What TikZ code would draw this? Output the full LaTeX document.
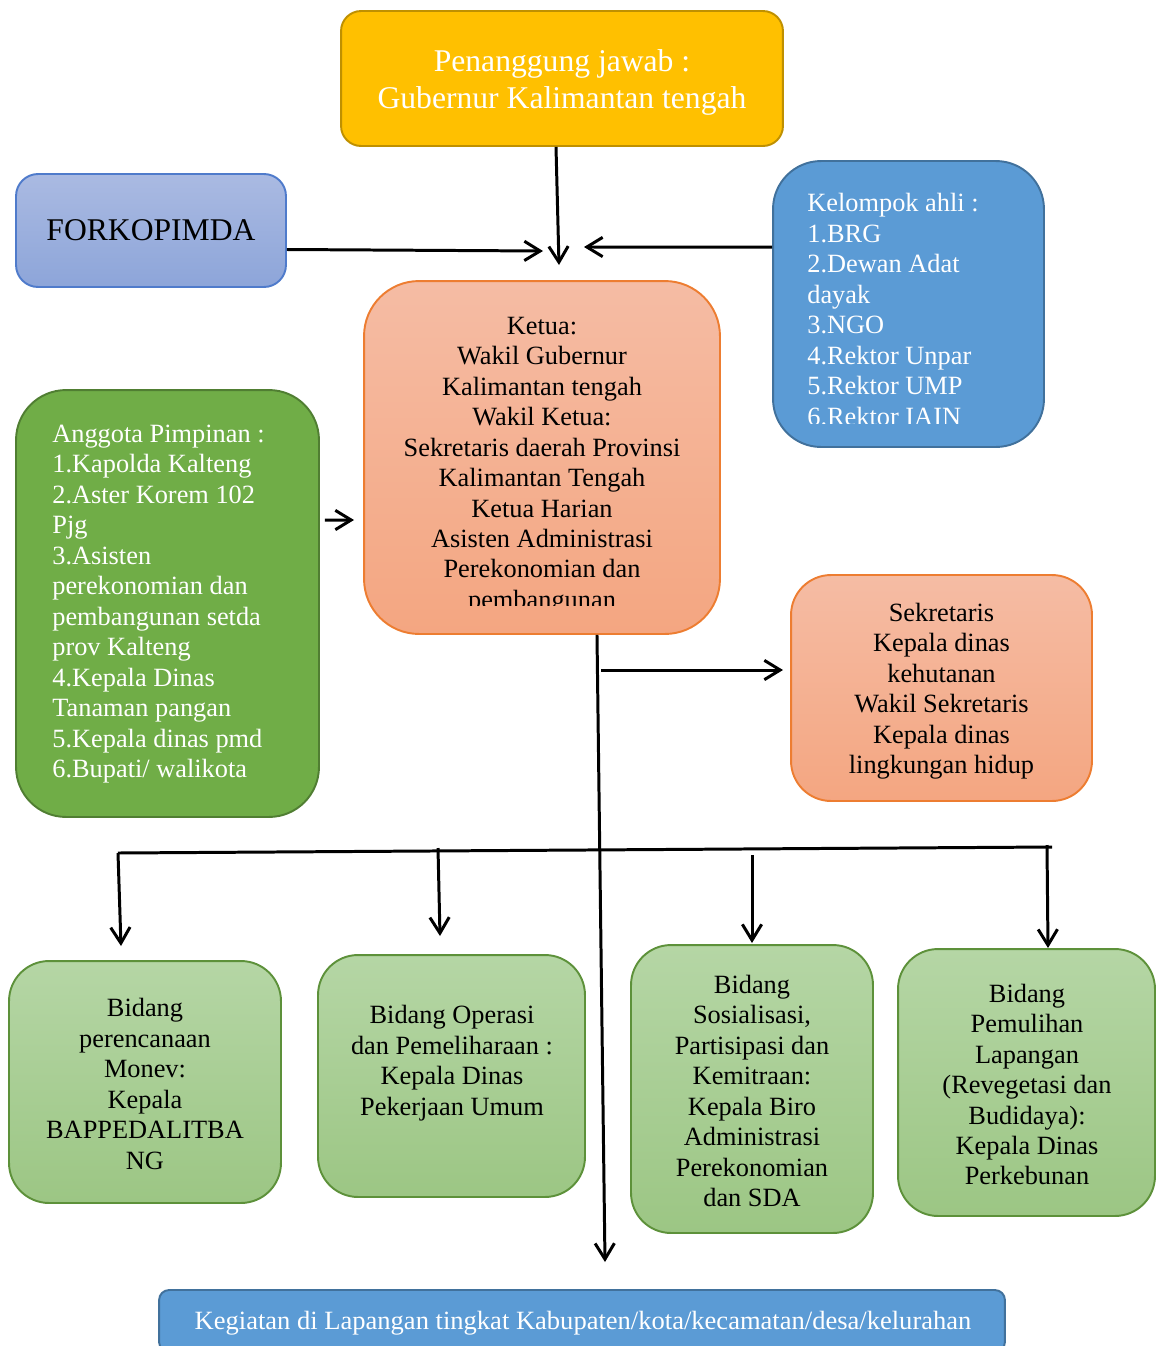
\documentclass[tikz,border=0pt]{standalone}
\usepackage{fontspec}
\setmainfont{Liberation Serif}
\usepackage{graphicx}
\usetikzlibrary{arrows.meta}

\definecolor{goldfill}{HTML}{FFC000}
\definecolor{goldline}{HTML}{BF9000}
\definecolor{lavtop}{HTML}{AABAE2}
\definecolor{lavbot}{HTML}{8DA5D9}
\definecolor{lavline}{HTML}{4F7BCB}
\definecolor{bluefill}{HTML}{5B9BD5}
\definecolor{blueline}{HTML}{41719C}
\definecolor{peachtop}{HTML}{F5BCA4}
\definecolor{peachbot}{HTML}{F4A681}
\definecolor{orangeline}{HTML}{ED7D31}
\definecolor{grassfill}{HTML}{70AD47}
\definecolor{grassline}{HTML}{507E32}
\definecolor{mintop}{HTML}{B5D6A5}
\definecolor{minbot}{HTML}{9CC684}

\tikzset{
  box/.style={draw, rounded corners=#1, line width=1.1pt, inner sep=0pt, align=center},
  txt/.style={font=\fontsize{15}{17.35}\selectfont, inner sep=0pt},
  bigtxt/.style={font=\fontsize{18}{21}\selectfont, inner sep=0pt},
  peach/.style={top color=peachtop, bottom color=peachbot, draw=orangeline},
  mint/.style={top color=mintop, bottom color=minbot, draw=grassline!60!grassfill},
  arr/.style={line width=1.7pt, -{Straight Barb[length=9pt,width=11pt]}},
  trunk/.style={line width=1.7pt}
}

\begin{document}
\begin{tikzpicture}[x=0.02cm, y=-0.02cm]
\useasboundingbox (0,0) rectangle (1156,1346);

% top row
\node[box=0.4cm, fill=goldfill, draw=goldline,
      minimum width=8.84cm, minimum height=2.7cm] (top) at (562,78.5) {};
\node[bigtxt, text=white, align=center] (toptxt) at (562,82)
  {Penanggung jawab :\\Gubernur Kalimantan tengah};
\node[box=0.44cm, bigtxt, top color=lavtop, bottom color=lavbot, draw=lavline,
      minimum width=5.4cm, minimum height=2.26cm] (forko) at (151,230.5) {FORKOPIMDA};
\node[box=0.96cm, fill=bluefill, draw=blueline,
      minimum width=5.42cm, minimum height=5.72cm] (ahli) at (908.5,304) {};
\begin{scope}
  \clip (780,170) rectangle (1040,423);
  \node[txt, text=white, align=left, anchor=north west] (ahlitxt) at (807,193)
    {Kelompok ahli :\\1.BRG\\2.Dewan Adat\\dayak\\3.NGO\\4.Rektor Unpar\\5.Rektor UMP\\6.Rektor IAIN};
\end{scope}

% middle row
\node[box=1.1cm, peach, minimum width=7.12cm, minimum height=7.06cm] (ketua) at (542,457.5) {};
\begin{scope}
  \clip (370,290) rectangle (714,605);
  \node[txt, align=center, anchor=north] (ketuatxt) at (542,316.5)
    {Ketua:\\Wakil Gubernur\\Kalimantan tengah\\Wakil Ketua:\\Sekretaris daerah Provinsi\\Kalimantan Tengah\\Ketua Harian\\Asisten Administrasi\\Perekonomian dan\\pembangunan};
\end{scope}
\node[box=1cm, fill=grassfill, draw=grassline, minimum width=6.06cm, minimum height=8.54cm] (anggota) at (167.5,603.5) {};
\node[txt, text=white, align=left, anchor=north west] (anggotatxt) at (52,424.5)
  {Anggota Pimpinan :\\1.Kapolda Kalteng\\2.Aster Korem 102\\Pjg\\3.Asisten\\perekonomian dan\\pembangunan setda\\prov Kalteng\\4.Kepala Dinas\\Tanaman pangan\\5.Kepala dinas pmd\\6.Bupati/ walikota};
\node[box=0.8cm, peach, minimum width=6.02cm, minimum height=4.52cm] (sekre) at (941.5,688) {};
\node[txt, align=center] (sekretxt) at (941.5,691)
  {Sekretaris\\Kepala dinas\\kehutanan\\Wakil Sekretaris\\Kepala dinas\\lingkungan hidup};

% bidang row
\node[box=0.8cm, mint, minimum width=5.44cm, minimum height=4.84cm] (bid1) at (145,1082) {};
\node[txt, align=center] (bid1txt) at (145,1084)
  {Bidang\\perencanaan\\Monev:\\Kepala\\BAPPEDALITBA\\NG};
\node[box=0.8cm, mint, minimum width=5.34cm, minimum height=4.84cm] (bid2) at (451.5,1076) {};
\node[txt, align=center] (bid2txt) at (452,1063)
  {Bidang Operasi\\dan Pemeliharaan :\\Kepala Dinas\\Pekerjaan Umum};
\node[box=0.8cm, mint, minimum width=4.84cm, minimum height=5.76cm] (bid3) at (752,1089) {};
\node[txt, align=center] (bid3txt) at (752,1091)
  {Bidang\\Sosialisasi,\\Partisipasi dan\\Kemitraan:\\Kepala Biro\\Administrasi\\Perekonomian\\dan SDA};
\node[box=0.8cm, mint, minimum width=5.14cm, minimum height=5.34cm] (bid4) at (1026.5,1082.5) {};
\node[txt, align=center] (bid4txt) at (1027,1084.5)
  {Bidang\\Pemulihan\\Lapangan\\(Revegetasi dan\\Budidaya):\\Kepala Dinas\\Perkebunan};

% bottom
\node[box=0.2cm, fill=bluefill, draw=blueline,
      minimum width=16.92cm, minimum height=1.24cm] (lapangan) at (582,1321) {};
\node[txt, text=white] (lapangantxt) at (583,1323)
  {\resizebox{442pt}{\height}{Kegiatan di Lapangan tingkat Kabupaten/kota/kecamatan/desa/kelurahan}};

% connectors
\coordinate (hub) at (559,265);
\coordinate (forkoend) at (543,251);
\coordinate (ahliend) at (584,247);
\coordinate (angend) at (354,520);
\coordinate (trunkend) at (605,1262);
\coordinate (sekfrom) at (601,670);
\coordinate (sekto) at (783,670);
\coordinate (barR) at (1052,847);
\coordinate (d1a) at (118,853); \coordinate (d1b) at (121,946);
\coordinate (d2a) at (438,848); \coordinate (d2b) at (440,936);
\coordinate (d3a) at (752,855); \coordinate (d3b) at (752,943);
\coordinate (d4a) at (1047,845); \coordinate (d4b) at (1048,948);

\draw[arr] ([xshift=-0.12cm]top.south) -- (hub);
\draw[arr] ([yshift=-0.38cm]forko.east) -- (forkoend);
\draw[arr] ([yshift=1.14cm]ahli.west) -- (ahliend);
\draw[arr] ([xshift=0.1cm,yshift=1.67cm]anggota.east) -- (angend);
\draw[arr] ([xshift=1.1cm]ketua.south) -- (trunkend);
\draw[arr] (sekfrom) -- (sekto);
\draw[trunk] (d1a) -- (barR);
\foreach \i in {1,...,4}
  \draw[arr] (d\i a) -- (d\i b);
\end{tikzpicture}
\end{document}
